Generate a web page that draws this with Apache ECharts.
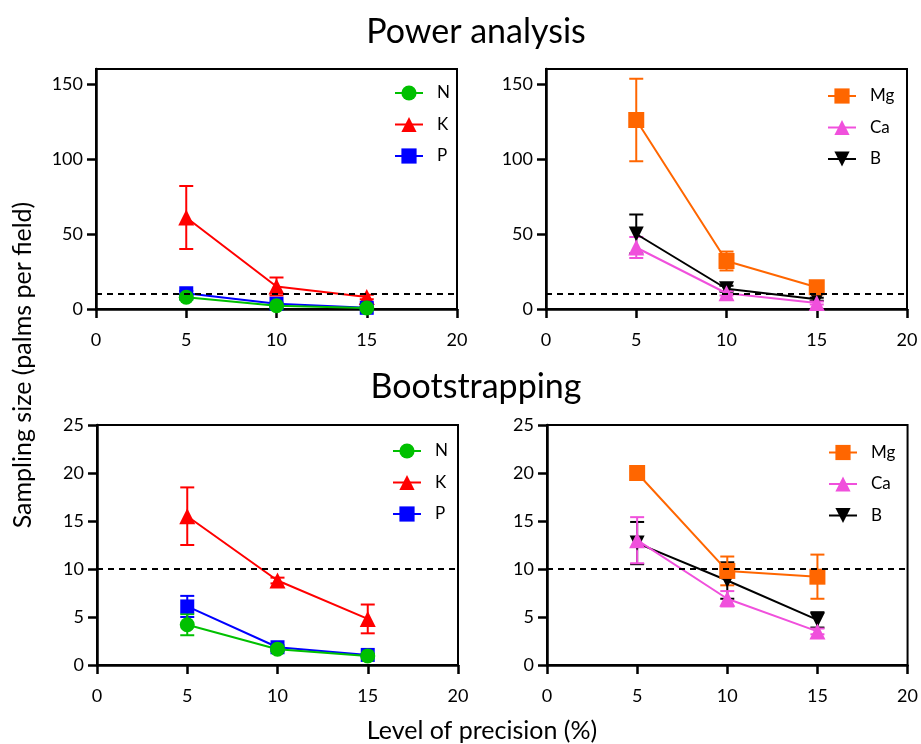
<!DOCTYPE html>
<html>
<head>
<meta charset="utf-8">
<script src="https://cdn.jsdelivr.net/npm/echarts@6/dist/echarts.min.js"></script>
<style>
  html, body { margin: 0; padding: 0; background: #fff; }
  #main { width: 921px; height: 744px; }
</style>
</head>
<body>
<div id="main"></div>
<script>
// precision levels (%)
var levels = [5, 10, 15];

// Power analysis
var powN = [7.8, 2.2, 0.7],   powNErr = [1.5, 0.5, 0.3];
var powK = [61, 15, 8],       powKErr = [21, 6, 1.5];
var powP = [10.5, 3.5, 0.8],  powPErr = [1.5, 0.8, 0.3];
var powMg = [126, 32, 14.5],  powMgErr = [27.5, 6.3, 2];
var powCa = [41, 10.5, 4],    powCaErr = [7, 1.5, 1];
var powB = [50, 13.5, 6.5],   powBErr = [13, 2, 1];

// Bootstrapping
var bootN = [4.2, 1.65, 0.95], bootNErr = [1.1, 0.2, 0.1];
var bootK = [15.5, 8.8, 4.8],  bootKErr = [3.0, 0.3, 1.5];
var bootP = [6.1, 1.85, 1.05], bootPErr = [1.1, 0.2, 0.1];
var bootMg = [20.0, 9.8, 9.2], bootMgErr = [0.2, 1.5, 2.3];
var bootCa = [13.0, 6.9, 3.5], bootCaErr = [2.4, 0.8, 0.3];
var bootB = [12.7, 8.8, 4.7],  bootBErr = [2.2, 1.9, 0.8];

var threshold = 10;
var powTicks = [0, 50, 100, 150];
var bootTicks = [0, 5, 10, 15, 20, 25];

var FONT = 'Lato';
var col = { N: '#00c000', K: '#ff0000', P: '#0000ff', Mg: '#ff6600', Ca: '#f050dc', B: '#000000' };
var sym = { N: 'circle', K: 'triangle', P: 'rect', Mg: 'rect', Ca: 'triangle', B: 'path://M0,0 L10,0 L5,9 Z' };
var symSize = { N: 15, K: 16, P: 14, Mg: 16, Ca: 16, B: 15 };

function pairs(vals, errs) {
    return levels.map(function (x, i) { return errs ? [x, vals[i], errs[i]] : [x, vals[i]]; });
}

// error bars with caps
function errSeries(idx, name, vals, errs) {
    return {
        type: 'custom',
        xAxisIndex: idx, yAxisIndex: idx,
        z: 1,
        silent: true,
        data: pairs(vals, errs),
        renderItem: function (params, api) {
            var x = api.value(0), y = api.value(1), e = api.value(2);
            var top = api.coord([x, y + e]);
            var bot = api.coord([x, y - e]);
            var w = 7;
            var st = { stroke: col[name], lineWidth: 2 };
            return {
                type: 'group',
                children: [
                    { type: 'line', shape: { x1: top[0], y1: top[1], x2: bot[0], y2: bot[1] }, style: st },
                    { type: 'line', shape: { x1: top[0] - w, y1: top[1], x2: top[0] + w, y2: top[1] }, style: st },
                    { type: 'line', shape: { x1: bot[0] - w, y1: bot[1], x2: bot[0] + w, y2: bot[1] }, style: st }
                ]
            };
        }
    };
}

function lineSeries(idx, name, vals, dashed) {
    var s = {
        name: name,
        type: 'line',
        xAxisIndex: idx, yAxisIndex: idx,
        z: 3,
        data: pairs(vals),
        symbol: sym[name],
        symbolSize: symSize[name],
        showAllSymbol: true,
        color: col[name],
        lineStyle: { width: 2, color: col[name] },
        itemStyle: { color: col[name] },
        emphasis: { disabled: true }
    };
    if (dashed) {
        s.markLine = {
            silent: true,
            symbol: 'none',
            label: { show: false },
            lineStyle: { type: [6, 5], color: '#000', width: 2 },
            data: [{ yAxis: threshold }]
        };
    }
    return s;
}

var grids = [
    { left: 96, top: 69, width: 361, height: 240 },
    { left: 546, top: 69, width: 361, height: 240 },
    { left: 97, top: 425, width: 361, height: 240 },
    { left: 547, top: 425, width: 361, height: 240 }
];
grids.forEach(function (g) {
    g.show = true;
    g.borderColor = '#000';
    g.borderWidth = 2;
    g.backgroundColor = 'transparent';
});

var xAxes = grids.map(function (g, i) {
    return {
        type: 'value', gridIndex: i, min: 0, max: 20, interval: 5,
        axisLine: { lineStyle: { color: '#000', width: 2.5 } },
        axisTick: { length: 9, lineStyle: { color: '#000', width: 2.5 } },
        axisLabel: { color: '#000', fontFamily: FONT, fontSize: 18, margin: 22 },
        splitLine: { show: false }
    };
});

var yAxes = grids.map(function (g, i) {
    var top = i < 2;
    var ticks = top ? powTicks : bootTicks;
    return {
        type: 'value', gridIndex: i, min: 0, max: top ? 160 : 25, interval: top ? 50 : 5,
        axisLine: { lineStyle: { color: '#000', width: 2.5 } },
        axisTick: { length: 9, lineStyle: { color: '#000', width: 2.5 }, customValues: ticks },
        axisLabel: { color: '#000', fontFamily: FONT, fontSize: 18, margin: 13, customValues: ticks },
        splitLine: { show: false }
    };
});

function legendAt(left, top, names) {
    return {
        data: names,
        left: left, top: top,
        orient: 'vertical',
        itemWidth: 28, itemHeight: 19, itemGap: 14.5,
        selectedMode: false,
        textStyle: { fontFamily: FONT, fontSize: 17, color: '#000', padding: [0, 0, 0, 9] }
    };
}

var series = [
    // power, left
    errSeries(0, 'K', powK, powKErr), errSeries(0, 'P', powP, powPErr), errSeries(0, 'N', powN, powNErr),
    lineSeries(0, 'K', powK, true), lineSeries(0, 'P', powP), lineSeries(0, 'N', powN),
    // power, right
    errSeries(1, 'B', powB, powBErr), errSeries(1, 'Ca', powCa, powCaErr), errSeries(1, 'Mg', powMg, powMgErr),
    lineSeries(1, 'B', powB, true), lineSeries(1, 'Ca', powCa), lineSeries(1, 'Mg', powMg),
    // bootstrapping, left
    errSeries(2, 'K', bootK, bootKErr), errSeries(2, 'P', bootP, bootPErr), errSeries(2, 'N', bootN, bootNErr),
    lineSeries(2, 'K', bootK, true), lineSeries(2, 'P', bootP), lineSeries(2, 'N', bootN),
    // bootstrapping, right
    errSeries(3, 'B', bootB, bootBErr), errSeries(3, 'Ca', bootCa, bootCaErr), errSeries(3, 'Mg', bootMg, bootMgErr),
    lineSeries(3, 'B', bootB, true), lineSeries(3, 'Ca', bootCa), lineSeries(3, 'Mg', bootMg)
];

var option = {
    backgroundColor: '#fff',
    animation: false,
    title: [
        { text: 'Power analysis', left: 471, top: 10, textAlign: 'center',
          textStyle: { fontFamily: FONT, fontSize: 34, fontWeight: 'normal', color: '#000' } },
        { text: 'Bootstrapping', left: 471, top: 365, textAlign: 'center',
          textStyle: { fontFamily: FONT, fontSize: 34, fontWeight: 'normal', color: '#000' } }
    ],
    legend: [
        legendAt(389, 79.5, ['N', 'K', 'P']),
        legendAt(822, 82.5, ['Mg', 'Ca', 'B']),
        legendAt(387, 437.5, ['N', 'K', 'P']),
        legendAt(823, 439, ['Mg', 'Ca', 'B'])
    ],
    grid: grids,
    xAxis: xAxes,
    yAxis: yAxes,
    series: series,
    graphic: [
        { type: 'text', x: 23, y: 365, rotation: Math.PI / 2,
          style: { text: 'Sampling size (palms per field)', font: '25px ' + FONT, fill: '#000',
                   textAlign: 'center', textVerticalAlign: 'middle' } },
        { type: 'text', x: 482, y: 731,
          style: { text: 'Level of precision (%)', font: '25px ' + FONT, fill: '#000',
                   textAlign: 'center', textVerticalAlign: 'middle' } }
    ]
};

var chart = echarts.init(document.getElementById('main'));
chart.setOption(option);
</script>
</body>
</html>
